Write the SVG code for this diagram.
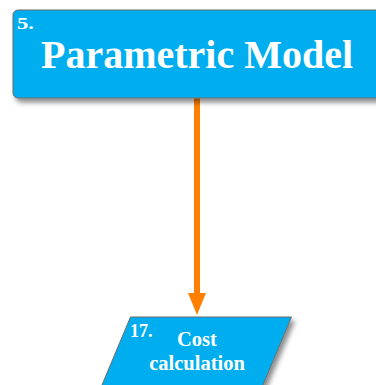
<svg xmlns="http://www.w3.org/2000/svg" width="376" height="385" viewBox="0 0 376 385">
<defs>
<style>
.node{fill:#00AEEF;stroke:#6d6d6d;stroke-width:1}
.t{font-family:"Liberation Serif","Times New Roman",serif;font-weight:bold;fill:#ffffff}
.conn{stroke:#FF8000;stroke-width:6;fill:none}
</style>
<filter id="sh" x="-10%" y="-10%" width="130%" height="140%">
<feDropShadow dx="3" dy="4" stdDeviation="2.5" flood-color="#000" flood-opacity="0.45"/>
</filter>
</defs>
<g id="connectors">
<line class="conn" x1="197" y1="98" x2="197" y2="296"/>
<polygon points="188,293 206,293 197,315" fill="#FF8000"/>
</g>
<g id="node5">
<rect class="node" x="13" y="10" width="380" height="88" rx="5" filter="url(#sh)"/>
<text class="t" x="17" y="29" font-size="17" textLength="17" lengthAdjust="spacingAndGlyphs">5.</text>
<text class="t" x="197" y="68" font-size="40" text-anchor="middle">Parametric Model</text>
</g>
<g id="node17">
<polygon class="node" points="130.5,317 291.5,317 252.5,410 91.5,410" filter="url(#sh)"/>
<text class="t" x="130" y="337" font-size="18">17.</text>
<text class="t" x="197" y="346" font-size="20.5" text-anchor="middle">Cost</text>
<text class="t" x="197" y="370" font-size="20.5" text-anchor="middle">calculation</text>
</g>
</svg>
